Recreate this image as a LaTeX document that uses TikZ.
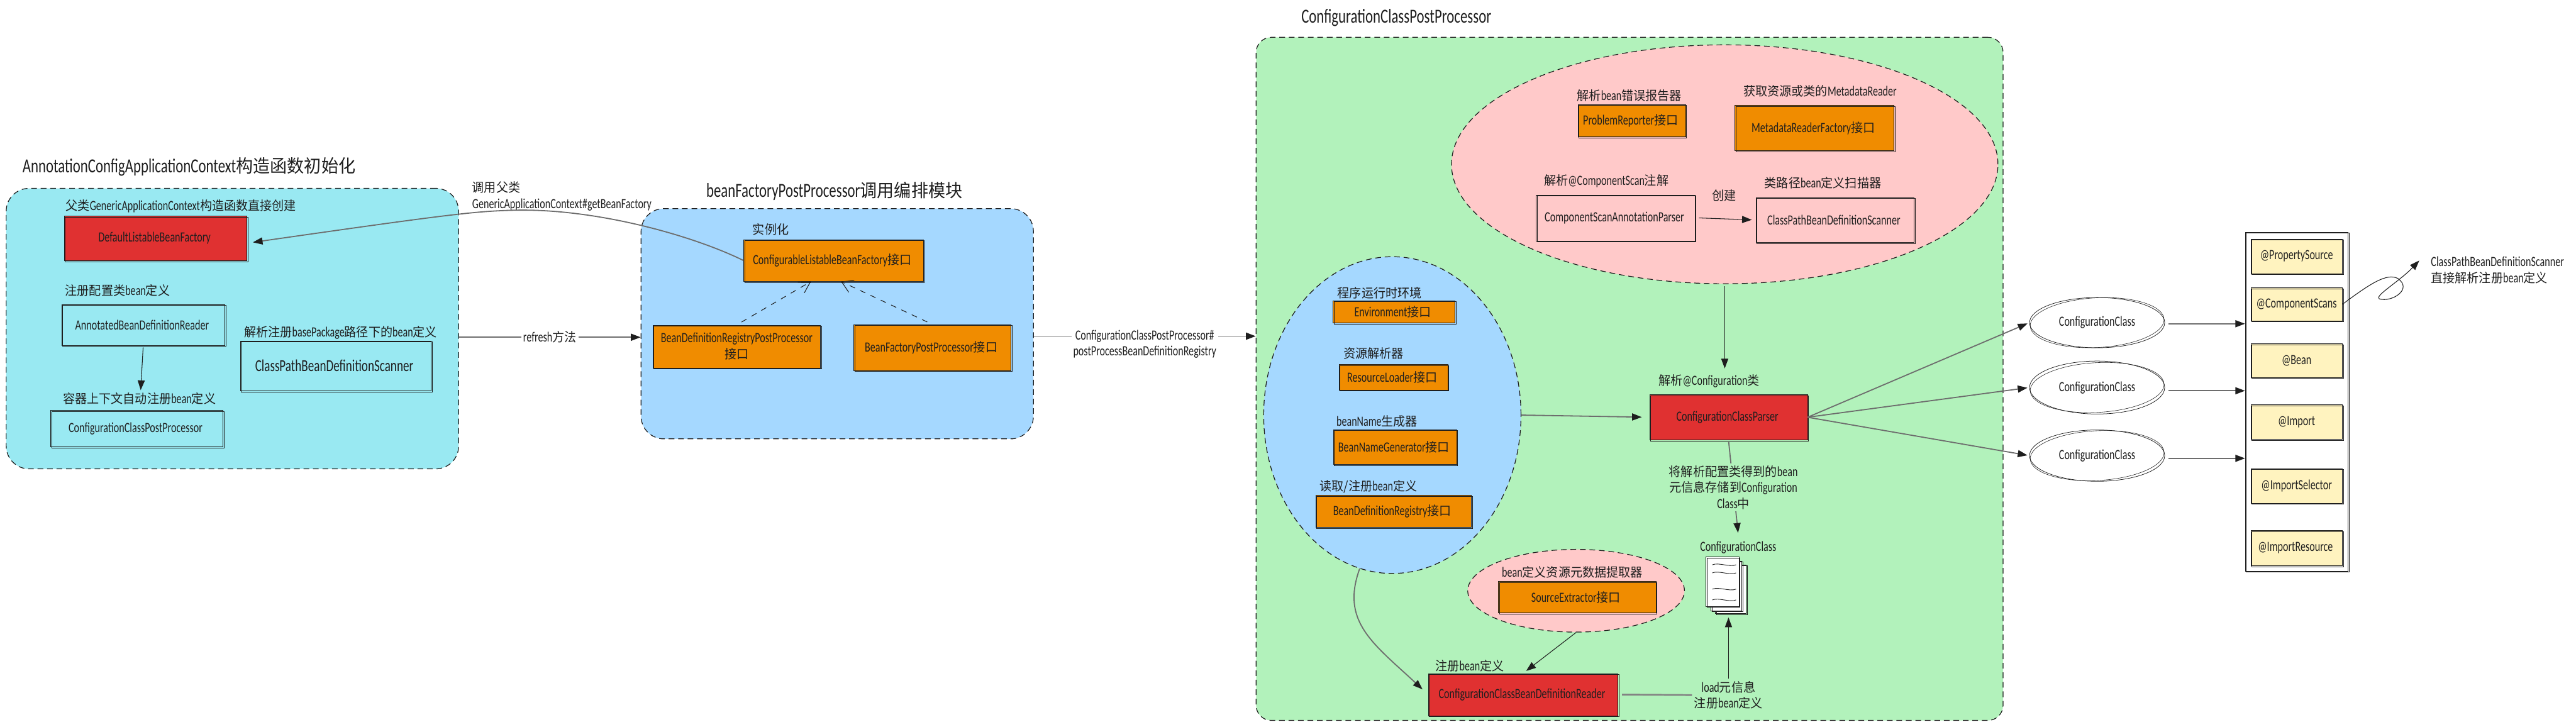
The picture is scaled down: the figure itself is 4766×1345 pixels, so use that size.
\documentclass[tikz,border=0pt]{standalone}
\usepackage{xcolor}
\usepackage{fontspec}
\usepackage{tikz}
\usetikzlibrary{
  arrows.meta,
  shapes.geometric
}
\setmainfont[FakeStretch=0.72]{Carlito}
\newfontfamily\cjkfont[FakeStretch=0.95]{Noto Sans CJK SC}
\newcommand{\zh}[1]{{\cjkfont\addfontfeature{Scale=0.9}#1}}
\definecolor{PanelCyan}{HTML}{99E9F2}
\definecolor{PanelBlue}{HTML}{A5D8FF}
\definecolor{PanelGreen}{HTML}{B2F2BB}
\definecolor{BubblePink}{HTML}{FFC9C9}
\definecolor{BoxRed}{HTML}{E03131}
\definecolor{BoxOrange}{HTML}{F08C00}
\definecolor{BoxYellow}{HTML}{FFF3BF}
\definecolor{Ink}{HTML}{1E1E1E}
\tikzset{
  rough/.style={
    postaction={
      draw=Ink,
      transform canvas={xshift=0.5pt,yshift=-0.5pt}
    }
  },
  box/.style={
    draw=Ink,
    line width=0.2pt,
    rough,
    align=center,
    inner sep=0pt
  },
  plainbox/.style={
    box
  },
  redbox/.style={
    box,
    fill=BoxRed
  },
  orangebox/.style={
    box,
    fill=BoxOrange
  },
  yellowbox/.style={
    box,
    fill=BoxYellow,
    minimum width=1.69cm
  },
  panel/.style={
    draw=Ink,
    line width=0.4pt,
    dash pattern=on 3pt off 2pt,
    rounded corners=12pt,
    inner sep=0pt
  },
  bubble/.style={
    panel,
    ellipse
  },
  classnode/.style={
    ellipse,
    draw=Ink,
    line width=0.25pt,
    fill=white,
    inner sep=0pt
  },
  caption/.style={
    align=left,
    inner sep=0pt,
    anchor=west
  },
  heading/.style={
    inner sep=0pt,
    anchor=west,
    font=\fontsize{10.5}{12}\selectfont
  },
  note/.style={
    align=center,
    inner sep=1pt
  },
  connection/.style={
    -{Triangle[length=1.8mm,width=1.3mm,color=Ink,fill=Ink]},
    draw=Ink!65,
    line width=0.6pt
  },
  thinlink/.style={
    -{Triangle[length=1.8mm,width=1.3mm]},
    draw=Ink,
    line width=0.35pt
  },
  implements/.style={
    -{Straight Barb[length=2mm,width=2.4mm]},
    draw=Ink,
    line width=0.35pt,
    dash pattern=on 3pt off 3pt
  }
}

\begin{document}
\begin{tikzpicture}[x=0.1mm,y=-0.1mm,text=Ink,font=\fontsize{7.4}{8.5}\selectfont]

  \useasboundingbox (0,0) rectangle (4766,1345);

  \node[
    panel,
    fill=PanelCyan,
    minimum width=8.37cm,
    minimum height=5.19cm
  ] at (430,608) (contextpanel) {};

  \node[
    panel,
    fill=PanelBlue,
    minimum width=7.26cm,
    minimum height=4.26cm
  ] at (1549,599) (factorypanel) {};

  \node[
    panel,
    fill=PanelGreen,
    rounded corners=8pt,
    minimum width=13.82cm,
    minimum height=12.64cm
  ] at (3015,701) (processorpanel) {};

  \node[
    bubble,
    fill=BubblePink,
    minimum width=10.11cm,
    minimum height=4.42cm
  ] at (3191,304) (scanbubble) {};

  \node[
    bubble,
    fill=PanelBlue,
    minimum width=4.76cm,
    minimum height=5.86cm
  ] at (2576,768) (interfacebubble) {};

  \node[
    bubble,
    fill=BubblePink,
    minimum width=4.01cm,
    minimum height=1.53cm
  ] at (2916,1093) (extractbubble) {};

  \node[heading] at (41,309) (contexttitle) {
    AnnotationConfigApplicationContext\zh{构造函数初始化}
  };

  \node[heading] at (1306,354) (factorytitle) {
    beanFactoryPostProcessor\zh{调用编排模块}
  };

  \node[heading] at (2407,33) (processortitle) {
    ConfigurationClassPostProcessor
  };

  \node[caption] at (121,381) (parentcaption) {
    \zh{父类}GenericApplicationContext\zh{构造函数直接创建}
  };

  \node[
    redbox,
    minimum width=3.38cm,
    minimum height=0.83cm
  ] at (288,441) (beanfactory) {
    DefaultListableBeanFactory
  };

  \node[caption] at (120,537) (readercaption) {
    \zh{注册配置类}bean\zh{定义}
  };

  \node[
    plainbox,
    minimum width=3.02cm,
    minimum height=0.76cm
  ] at (265,601) (annotatedreader) {
    AnnotatedBeanDefinitionReader
  };

  \node[caption] at (451,615) (scancaption) {
    \zh{解析注册}basePackage\zh{路径下的}bean\zh{定义}
  };

  \node[
    plainbox,
    font=\fontsize{8.8}{10}\selectfont,
    minimum width=3.53cm,
    minimum height=0.93cm
  ] at (621,677) (pathscanner) {
    ClassPathBeanDefinitionScanner
  };

  \node[caption] at (116,737) (autocaption) {
    \zh{容器上下文自动注册}bean\zh{定义}
  };

  \node[
    plainbox,
    minimum width=3.19cm,
    minimum height=0.67cm
  ] at (253,793) (postprocessor) {
    ConfigurationClassPostProcessor
  };

  \node[caption] at (873,363) (parentnote) {
    \zh{调用父类}\\
    GenericApplicationContext\#getBeanFactory
  };

  \node[caption] at (1392,424) (instancecaption) {
    \zh{实例化}
  };

  \node[
    orangebox,
    minimum width=3.32cm,
    minimum height=0.77cm
  ] at (1542,482) (configurable) {
    ConfigurableListableBeanFactory\zh{接口}
  };

  \node[
    orangebox,
    minimum width=3.10cm,
    minimum height=0.79cm
  ] at (1363,641) (registryprocessor) {
    BeanDefinitionRegistryPostProcessor\\
    \zh{接口}
  };

  \node[
    orangebox,
    minimum width=2.91cm,
    minimum height=0.85cm
  ] at (1725,643) (factoryprocessor) {
    BeanFactoryPostProcessor\zh{接口}
  };

  \node[caption] at (2917,177) (problemcaption) {
    \zh{解析}bean\zh{错误报告器}
  };

  \node[
    orangebox,
    minimum width=1.99cm,
    minimum height=0.60cm
  ] at (3019,223) (problemreporter) {
    ProblemReporter\zh{接口}
  };

  \node[caption] at (3225,169) (metadatacaption) {
    \zh{获取资源或类的}MetadataReader
  };

  \node[
    orangebox,
    minimum width=2.94cm,
    minimum height=0.84cm
  ] at (3357,237) (metadatafactory) {
    MetadataReaderFactory\zh{接口}
  };

  \node[caption] at (2856,335) (componentcaption) {
    \zh{解析}@ComponentScan\zh{注解}
  };

  \node[
    plainbox,
    minimum width=2.94cm,
    minimum height=0.85cm
  ] at (2989,403) (annotationparser) {
    ComponentScanAnnotationParser
  };

  \node[caption] at (3264,338) (pathcaption) {
    \zh{类路径}bean\zh{定义扫描器}
  };

  \node[
    plainbox,
    minimum width=2.93cm,
    minimum height=0.83cm
  ] at (3395,407) (beanscanner) {
    ClassPathBeanDefinitionScanner
  };

  \node[caption] at (2474,542) (environmentcaption) {
    \zh{程序运行时环境}
  };

  \node[
    orangebox,
    minimum width=2.26cm,
    minimum height=0.41cm
  ] at (2579,577) (environment) {
    Environment\zh{接口}
  };

  \node[caption] at (2485,654) (resourcecaption) {
    \zh{资源解析器}
  };

  \node[
    orangebox,
    minimum width=2.01cm,
    minimum height=0.47cm
  ] at (2578,698) (resourceloader) {
    ResourceLoader\zh{接口}
  };

  \node[caption] at (2472,780) (namecaption) {
    beanName\zh{生成器}
  };

  \node[
    orangebox,
    minimum width=2.28cm,
    minimum height=0.65cm
  ] at (2581,827) (namegenerator) {
    BeanNameGenerator\zh{接口}
  };

  \node[caption] at (2441,900) (registrycaption) {
    \zh{读取/注册}bean\zh{定义}
  };

  \node[
    orangebox,
    minimum width=2.88cm,
    minimum height=0.59cm
  ] at (2578,946) (definitionregistry) {
    BeanDefinitionRegistry\zh{接口}
  };

  \node[caption] at (3068,705) (parsercaption) {
    \zh{解析}@Configuration\zh{类}
  };

  \node[
    redbox,
    minimum width=2.92cm,
    minimum height=0.84cm
  ] at (3198,772) (classparser) {
    ConfigurationClassParser
  };

  \node[caption] at (2778,1059) (extractcaption) {
    bean\zh{定义资源元数据提取器}
  };

  \node[
    orangebox,
    minimum width=2.91cm,
    minimum height=0.58cm
  ] at (2918,1105) (sourceextractor) {
    SourceExtractor\zh{接口}
  };

  \node[caption] at (2655,1232) (registercaption) {
    \zh{注册}bean\zh{定义}
  };

  \node[
    redbox,
    minimum width=3.51cm,
    minimum height=0.78cm
  ] at (2818,1285) (definitionreader) {
    ConfigurationClassBeanDefinitionReader
  };

  \node at (3216,1013) (sheetcaption) {
    ConfigurationClass
  };

  \node[
    box,
    fill=white,
    minimum width=0.57cm,
    minimum height=0.90cm
  ] at (3202,1090) (backsheet) {};

  \node[
    box,
    fill=white,
    minimum width=0.57cm,
    minimum height=0.92cm
  ] at (3194,1084) (middlesheet) {};

  \node[
    box,
    fill=white,
    minimum width=0.61cm,
    minimum height=0.91cm
  ] at (3187,1076) (frontsheet) {};

  \foreach \y in {1045,1060,1090,1110} {
    \draw[Ink,line width=0.3pt]
    (3168,\y) ..
    controls (3180,\y-5) and (3200,\y+5) ..
    (3212,\y);
  }

  \node[
    plainbox,
    fill=white,
    minimum width=1.90cm,
    minimum height=6.27cm
  ] at (4249,743) (annotationlist) {};

  \foreach \name/\y/\h/\txt in {
    propertysource/474/0.64cm/@PropertySource,
    componentscans/563/0.61cm/@ComponentScans,
    beanmethod/667/0.62cm/@Bean,
    importplain/781/0.64cm/@Import,
    importselector/899/0.64cm/@ImportSelector,
    importresource/1014/0.65cm/@ImportResource
  } {
    \node[
      yellowbox,
      minimum height=\h
    ] at (4249,\y) (\name) {
      \txt
    };
  }

  \foreach \i/\y/\h in {1/597/0.93cm,2/717/0.98cm,3/843/0.95cm} {
    \node[
      classnode,
      minimum width=2.50cm,
      minimum height=\h
    ] at (3880,\y) (configclass\i) {
      ConfigurationClass
    };
    \draw[Ink,line width=0.2pt]
    (configclass\i.center) ellipse [x radius=124,y radius=46,rotate=3];
  }

  \node[caption] at (4497,500) (scannernote) {
    ClassPathBeanDefinitionScanner\\
    \zh{直接解析注册}bean\zh{定义}
  };

  \coordinate (looptip) at (4476,482);

  \draw[thinlink,shorten <=1pt,shorten >=1pt]
  (annotatedreader.south) --
  (autocaption.north);

  \draw[connection,shorten >=3pt]
  (configurable.west) ..
  controls (1280,435) and (1100,385) ..
  (950,389) ..
  controls (880,391) and (840,395) ..
  (beanfactory.357);

  \draw[connection]
  (contextpanel.east |- 0,624) --
  node[
    fill=white,
    inner sep=1pt
  ] (refreshnote) {
    refresh\zh{方法}
  }
  (factorypanel.west |- 0,624);

  \draw[implements,shorten <=3pt]
  (registryprocessor.north) --
  (configurable.223);

  \draw[implements,shorten <=3pt]
  (factoryprocessor.north) --
  (configurable.290);

  \draw[connection]
  (factorypanel.east |- 0,622) --
  node[
    note,
    fill=white,
    yshift=-4.2pt
  ] (postprocessnote) {
    ConfigurationClassPostProcessor\#\\
    postProcessBeanDefinitionRegistry
  }
  (processorpanel.west |- 0,622);

  \draw[thinlink,shorten <=2pt,shorten >=2pt]
  (annotationparser.east) --
  node[
    above=8pt,
    note
  ] (createnote) {
    \zh{创建}
  }
  (beanscanner.west);

  \draw[thinlink,shorten <=1pt,shorten >=3pt]
  (scanbubble.south) --
  (parsercaption.north -| scanbubble.south);

  \draw[connection,shorten >=4pt]
  (interfacebubble.east) --
  (classparser.west);

  \draw[connection,shorten <=1pt,shorten >=1pt]
  (classparser.south) --
  node[
    note,
    fill=PanelGreen
  ] (mergenote) {
    \zh{将解析配置类得到的}bean\\
    \zh{元信息存储到}Configuration\\
    Class\zh{中}
  }
  (sheetcaption.north);

  \draw[connection,shorten >=4pt]
  (interfacebubble.258) ..
  controls (2480,1150) and (2540,1190) ..
  (definitionreader.west);

  \draw[thinlink,shorten >=2pt]
  (extractbubble.south) --
  (definitionreader.north);

  \node[
    note,
    fill=PanelGreen
  ] at (3198,1286) (loadnote) {
    load\zh{元信息}\\
    \zh{注册}bean\zh{定义}
  };

  \draw[line width=0.9pt,Ink!55,shorten <=2pt]
  (definitionreader.east) --
  (loadnote.west);

  \draw[thinlink,shorten >=2pt]
  (loadnote.north) --
  (loadnote.north |- backsheet.south);

  \foreach \i in {1,2,3} {
    \draw[connection,shorten >=1pt]
    (classparser.east) --
    (configclass\i.west);
  }

  \foreach \i/\y in {1/599,2/723,3/848} {
    \draw[connection,shorten <=2pt]
    (configclass\i.east |- 0,\y) --
    (annotationlist.west |- 0,\y);
  }

  \draw[thinlink]
  (componentscans.east) ..
  controls (4385,525) and (4415,505) ..
  (4436,515) ..
  controls (4465,535) and (4425,560) ..
  (4402,553) ..
  controls (4392,548) and (4440,520) ..
  (looptip);

\end{tikzpicture}
\end{document}
